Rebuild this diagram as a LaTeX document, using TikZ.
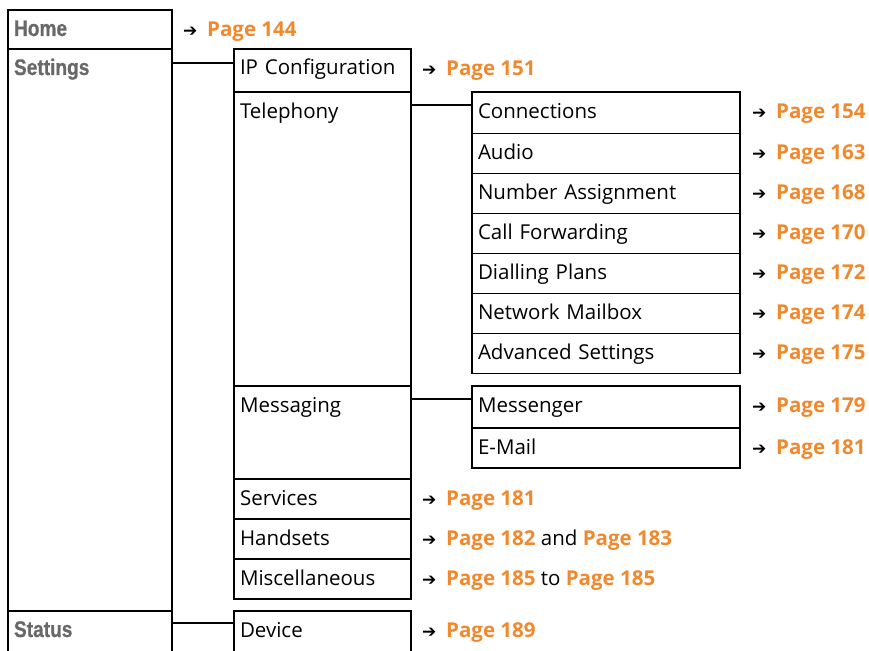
\documentclass[tikz,border=0pt]{standalone}
\usepackage{fontspec}
\setmainfont{Open Sans}
\newfontfamily\menufont[FakeStretch=0.85,FakeBold=0.6]{Liberation Sans}
\newfontfamily\arrowfont{DejaVu Sans}
\usetikzlibrary{positioning}
\definecolor{pgorange}{HTML}{F0892E}
\definecolor{menugray}{HTML}{686868}
\newcommand{\pg}[1]{\textbf{\color{pgorange}Page~#1}}
\newcommand{\goto}{\makebox[24pt][l]{\raisebox{0pt}{\arrowfont\fontsize{17}{17}\selectfont ➔}}}

\begin{document}
\begin{tikzpicture}[x=1pt, y=-1pt,
    box/.style={draw, line width=1.2pt, outer sep=0pt, inner xsep=6pt, inner ysep=0pt, align=left, text height=26pt, font=\fontsize{20.5}{24}\selectfont},
    menu/.style={box, text width=152pt, font=\fontsize{22.5}{24}\menufont\bfseries, text=menugray},
    sub/.style={box, text width=165pt},
    leaf/.style={box, text width=256pt},
    pref/.style={inner sep=0pt, text height=26pt, text depth=0pt, font=\fontsize{20.5}{24}\selectfont},
    link/.style={line width=1.2pt},
]
\clip (0,0) rectangle (869,650);

% main menu
\node[menu, anchor=north west, text depth=13pt] (home) at (8,10) {Home};
\node[menu, below=0pt of home, text depth=536pt] (settings) {Settings};
\node[menu, below=0pt of settings, text depth=44pt] (status) {Status};

% settings
\node[sub, right=62pt of settings.north east, anchor=north west, text depth=17pt] (ipc) {IP Configuration};
\node[sub, below=0pt of ipc, text depth=268pt] (tel) {Telephony};
\node[sub, below=0pt of tel, text depth=67pt] (msg) {Messaging};
\node[sub, below=0pt of msg, text depth=14pt] (serv) {Services};
\node[sub, below=0pt of serv, text depth=14pt] (hand) {Handsets};
\node[sub, below=0pt of hand, text depth=14pt] (misc) {Miscellaneous};
\node[sub, right=62pt of status.north east, anchor=north west, text depth=44pt] (dev) {Device};

% telephony
\node[leaf, right=61pt of tel.north east, anchor=north west, text depth=15.6pt] (conn) {Connections};
\node[leaf, below=0pt of conn, text depth=14pt] (audio) {Audio};
\node[leaf, below=0pt of audio, text depth=14pt] (numas) {Number Assignment};
\node[leaf, below=0pt of numas, text depth=14pt] (callfw) {Call Forwarding};
\node[leaf, below=0pt of callfw, text depth=14pt] (dial) {Dialling Plans};
\node[leaf, below=0pt of dial, text depth=14pt] (mailbox) {Network Mailbox};
\node[leaf, below=0pt of mailbox, text depth=14pt] (adv) {Advanced Settings};

% messaging
\node[leaf, right=61pt of msg.north east, anchor=north west, text depth=16pt] (mess) {Messenger};
\node[leaf, below=0pt of mess, text depth=14pt] (mail) {E-Mail};

\draw[link] ([yshift=-14pt]settings.north east) -- ([yshift=-14pt]ipc.north west);
\draw[link] ([yshift=-13pt]tel.north east) -- ([yshift=-13pt]conn.north west);
\draw[link] ([yshift=-13pt]msg.north east) -- ([yshift=-13pt]mess.north west);
\draw[link] ([yshift=-12pt]status.north east) -- ([yshift=-12pt]dev.north west);

% page references
\node[pref, right=11pt of home.north east, anchor=north west] (rhome) {\goto\pg{144}};
\node[pref, right=11pt of ipc.north east, anchor=north west] (ripc) {\goto\pg{151}};
\node[pref, right=11pt of serv.north east, anchor=north west] (rserv) {\goto\pg{181}};
\node[pref, right=11pt of hand.north east, anchor=north west] (rhand) {\goto\pg{182} and \pg{183}};
\node[pref, right=11pt of misc.north east, anchor=north west] (rmisc) {\goto\pg{185} to \pg{185}};
\node[pref, right=11pt of dev.north east, anchor=north west] (rdev) {\goto\pg{189}};
\node[pref, right=12pt of conn.north east, anchor=north west] (rconn) {\goto\pg{154}};
\node[pref, right=12pt of audio.north east, anchor=north west] (raudio) {\goto\pg{163}};
\node[pref, right=12pt of numas.north east, anchor=north west] (rnumas) {\goto\pg{168}};
\node[pref, right=12pt of callfw.north east, anchor=north west] (rcallfw) {\goto\pg{170}};
\node[pref, right=12pt of dial.north east, anchor=north west] (rdial) {\goto\pg{172}};
\node[pref, right=12pt of mailbox.north east, anchor=north west] (rmailbox) {\goto\pg{174}};
\node[pref, right=12pt of adv.north east, anchor=north west] (radv) {\goto\pg{175}};
\node[pref, right=12pt of mess.north east, anchor=north west] (rmess) {\goto\pg{179}};
\node[pref, right=12pt of mail.north east, anchor=north west] (rmail) {\goto\pg{181}};
\end{tikzpicture}
\end{document}
